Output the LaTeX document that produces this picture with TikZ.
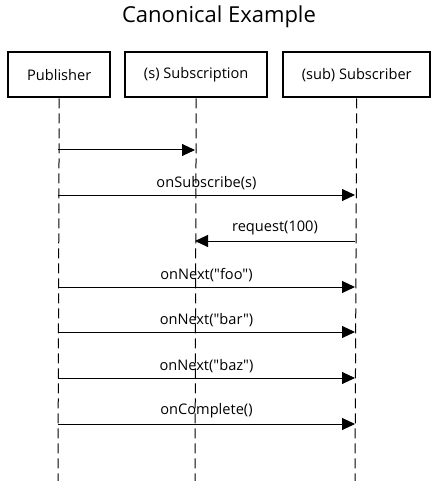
\documentclass[tikz,border=0pt]{standalone}
\usepackage{fontspec}
\setmainfont{Open Sans}
\newfontfamily\ops{Open Sans}
\usetikzlibrary{arrows.meta}
\begin{document}
\begin{tikzpicture}[x=1pt,y=-1pt,
  actor/.style={draw,line width=2.4pt,minimum height=45pt,inner sep=0pt,font=\ops\fontsize{14.6}{17}\selectfont,anchor=north west},
  life/.style={line width=1pt,dash pattern=on 10pt off 5pt},
  msg/.style={line width=1pt,-{Triangle[length=13pt,width=12pt]},shorten >=0pt},
  lbl/.style={font=\ops\fontsize{14.6}{17}\selectfont,inner sep=0pt,anchor=base}]
\useasboundingbox (0,0) rectangle (437,481);
\node[font=\ops\fontsize{22}{26}\selectfont] (title) at (219,17) {Canonical Example};
\node[actor,minimum width=102pt] (pub) at (7,51) {Publisher};
\node[actor,minimum width=142pt] (sn) at (124,51) {(s) Subscription};
\node[actor,minimum width=147pt] (sr) at (282,51) {(sub) Subscriber};
\coordinate (pubE) at (58,481);
\coordinate (snE) at (195,481);
\coordinate (srE) at (355,481);
\draw[life] (pub.south) -- (pubE);
\draw[life] (sn.south) -- (snE);
\draw[life] (sr.south) -- (srE);
% messages
\foreach \y/\n in {150/a,195/b,241/c,287/d,332/e,378/f,424/g}{
  \coordinate (p\n) at (58,\y);
  \coordinate (s\n) at (195,\y);
  \coordinate (r\n) at (355,\y);
}
\draw[msg] (pa) -- (sa);
\draw[msg] (pb) -- node[lbl,above=5pt] (lb) {onSubscribe(s)} (rb);
\draw[msg] (rc) -- node[lbl,above=5pt] (lc) {request(100)} (sc);
\draw[msg] (pd) -- node[lbl,above=5pt] (ld) {onNext("foo")} (rd);
\draw[msg] (pe) -- node[lbl,above=5pt] (le) {onNext("bar")} (re);
\draw[msg] (pf) -- node[lbl,above=5pt] (lf) {onNext("baz")} (rf);
\draw[msg] (pg) -- node[lbl,above=5pt] (lg) {onComplete()} (rg);
\end{tikzpicture}
\end{document}
